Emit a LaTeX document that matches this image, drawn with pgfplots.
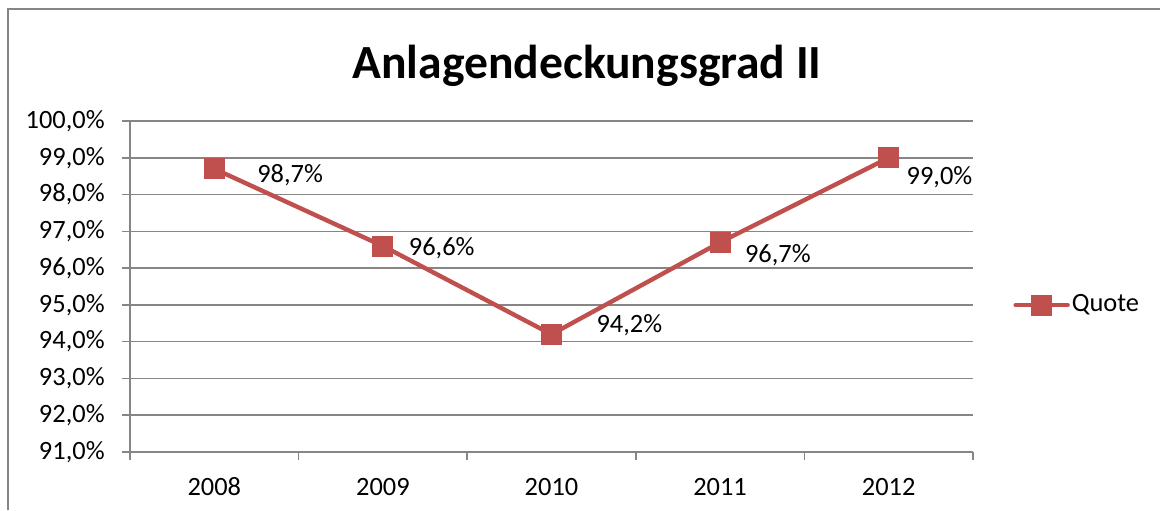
\documentclass[border=0pt]{standalone}
\usepackage{fontspec}
\setmainfont{Carlito}
\usepackage{pgfplots}
\pgfplotsset{compat=1.18}
\definecolor{excelred}{RGB}{192,80,77}
\definecolor{gridgray}{RGB}{134,134,134}
\begin{document}
\fontsize{13.2pt}{15pt}\selectfont
\begin{tikzpicture}
\useasboundingbox (0,0) rectangle (580pt,255pt);
\draw[gridgray, line width=0.9pt] (4pt,0) -- (4pt,250.5pt) -- (580pt,250.5pt);
\node[font=\fontsize{23.8pt}{28pt}\selectfont\bfseries, anchor=base, inner sep=0pt] at (293.5pt,215.5pt) {Anlagendeckungsgrad II};
\begin{axis}[
  at={(65pt,29pt)}, anchor=south west,
  scale only axis, width=421.5pt, height=165.5pt,
  xmin=-0.5, xmax=4.5, ymin=91, ymax=100,
  axis x line*=bottom, axis y line*=left,
  axis line style={draw=gridgray, line width=0.8pt, -},
  tick style={draw=gridgray, line width=0.8pt},
  tick align=outside, major tick length=4pt,
  xtick={-0.5,0.5,1.5,2.5,3.5,4.5}, xticklabels={},
  extra x ticks={0,1,2,3,4},
  extra x tick labels={2008,2009,2010,2011,2012},
  extra x tick style={major tick length=0pt},
  xticklabel style={anchor=base, inner sep=0pt, yshift=-21.5pt},
  ytick={91,92,93,94,95,96,97,98,99,100},
  yticklabels={{91,0\%},{92,0\%},{93,0\%},{94,0\%},{95,0\%},{96,0\%},{97,0\%},{98,0\%},{99,0\%},{100,0\%}},
  yticklabel style={anchor=east, inner sep=0pt, xshift=-8.5pt},
  ymajorgrids, major grid style={draw=gridgray, line width=0.8pt},
  clip=false,
  legend style={at={(1.0475,0.444)}, anchor=west, draw=none, fill=none,
    inner sep=0pt, column sep=0pt, nodes={inner sep=1pt}},
  legend image code/.code={\draw[mark repeat=2, mark phase=2, #1, line cap=round]
    plot coordinates {(0pt,0pt) (13pt,0pt) (26pt,0pt)};},
]
\addplot[excelred, line width=2.2pt, line join=round,
  mark=square*, mark size=5pt, mark options={solid, line width=0pt},
  nodes near coords, point meta=explicit symbolic,
  visualization depends on={\thisrow{dx} \as \dx},
  visualization depends on={\thisrow{dy} \as \dy},
  nodes near coords style={anchor=west, inner sep=0pt, text=black,
    xshift=\dx pt, yshift=\dy pt}]
  table[x=x, y=y, meta=lab] {
x y lab dx dy
0 98.7 {98,7\%} 21.5 -3.0
1 96.6 {96,6\%} 13 -1.0
2 94.2 {94,2\%} 22.5 4.5
3 96.7 {96,7\%} 12.5 -6.5
4 99.0 {99,0\%} 9 -9.5
};
\addlegendentry{Quote}
\end{axis}
\end{tikzpicture}
\end{document}
